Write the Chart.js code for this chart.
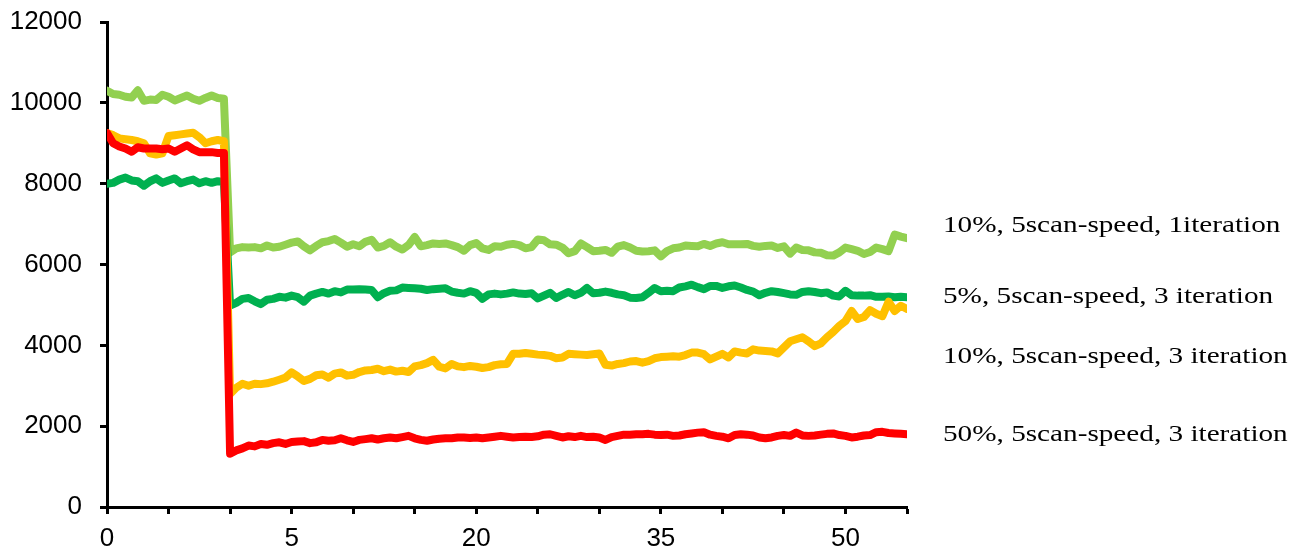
<!DOCTYPE html>
<html>
<head>
<meta charset="utf-8">
<title>Scan speed series</title>
<script src="https://cdn.jsdelivr.net/npm/chart.js@4.4.1/dist/chart.umd.min.js"></script>
<style>
  body { margin: 0; background: #fff; }
  #wrap { width: 1302px; height: 550px; }
</style>
</head>
<body>
<div id="wrap"><canvas id="lineChart"></canvas></div>
<script>
// x axis: one point per frame, tick every 10 frames, label every 30
const tickLabels = ['0', '5', '20', '35', '50'];

const seriesNames = [
    '10%, 5scan-speed, 1iteration',
    '5%, 5scan-speed, 3 iteration',
    '10%, 5scan-speed, 3 iteration',
    '50%, 5scan-speed, 3 iteration'
];

const lightGreen = [
    10300, 10220, 10200, 10150, 10130, 10310, 10050, 10080, 10070, 10200, 10150, 10060, 10120, 10180, 10100, 10050, 10120, 10180, 10120, 10100,
    6300, 6400, 6430, 6420, 6430, 6400, 6470, 6420, 6440, 6490, 6540, 6570, 6450, 6350, 6460, 6550, 6580, 6630, 6540, 6440, 6500, 6450, 6560, 6610, 6420, 6460, 6550,
    6440, 6370, 6480, 6680, 6450, 6480, 6520, 6510, 6520, 6480, 6430, 6340, 6480, 6530, 6400, 6360, 6450, 6440, 6490, 6510, 6480, 6400, 6430, 6620, 6600, 6500, 6490, 6420, 6280,
    6330, 6520, 6430, 6330, 6340, 6360, 6290, 6440, 6480, 6420, 6340, 6320, 6330, 6350, 6200, 6330, 6400, 6420, 6470, 6460, 6450, 6510, 6460, 6520, 6550, 6500,
    6500, 6500, 6510, 6460, 6440, 6460, 6470, 6410, 6450, 6270, 6420, 6360, 6350, 6300, 6290, 6230, 6220, 6300, 6420, 6380, 6340, 6260, 6310, 6420, 6380, 6330, 6740, 6690, 6650
];

const darkGreen = [
    8000, 8020, 8100, 8150, 8080, 8060, 7950, 8060, 8130, 8020, 8080, 8130, 8010, 8060, 8100, 8010, 8060, 8020, 8060, 8040,
    4980, 5050, 5150, 5170, 5090, 5020, 5130, 5150, 5200, 5180, 5230, 5190, 5080, 5230, 5280, 5320, 5280, 5340, 5310, 5380, 5380, 5390, 5380, 5370, 5190, 5290, 5350,
    5360, 5430, 5420, 5410, 5400, 5370, 5390, 5400, 5410, 5330, 5300, 5280, 5340, 5300, 5150, 5260, 5280, 5260, 5280, 5310, 5280, 5270, 5290, 5160, 5230, 5300, 5170, 5250, 5320,
    5240, 5300, 5420, 5290, 5300, 5330, 5300, 5260, 5240, 5180, 5170, 5190, 5300, 5420, 5340, 5350, 5340, 5430, 5460, 5500, 5440, 5390, 5470, 5470, 5420, 5460,
    5480, 5430, 5370, 5330, 5240, 5300, 5340, 5320, 5290, 5260, 5250, 5320, 5340, 5320, 5290, 5310, 5230, 5210, 5350, 5240, 5230, 5230, 5240, 5200, 5200, 5210, 5190, 5200, 5190
];

const yellow = [
    9250, 9200, 9120, 9100, 9080, 9050, 9000, 8750, 8720, 8750, 9180, 9200, 9220, 9240, 9260, 9150, 9000, 9050, 9080, 9050,
    2800, 2950, 3050, 3000, 3050, 3040, 3060, 3100, 3150, 3200, 3330, 3230, 3120, 3170, 3260, 3280, 3200, 3300, 3330, 3250, 3270, 3340, 3380, 3390, 3420, 3360, 3400,
    3350, 3370, 3340, 3480, 3510, 3560, 3640, 3470, 3430, 3540, 3480, 3460, 3490, 3470, 3440, 3460, 3510, 3530, 3540, 3790, 3790, 3810, 3790, 3770, 3760, 3740, 3680, 3700, 3790,
    3780, 3770, 3760, 3780, 3800, 3520, 3500, 3540, 3560, 3600, 3610, 3570, 3610, 3680, 3710, 3720, 3730, 3720, 3760, 3820, 3820, 3780, 3650, 3720, 3790, 3700,
    3850, 3820, 3800, 3900, 3870, 3860, 3850, 3800, 3950, 4100, 4150, 4200, 4100, 3980, 4050, 4200, 4330, 4480, 4600, 4850, 4650, 4700, 4870, 4780, 4720, 5080, 4850, 4980, 4900
];

const red = [
    9250, 9000, 8920, 8870, 8790, 8900, 8870, 8870, 8870, 8850, 8870, 8790, 8870, 8950, 8850, 8780, 8780, 8780, 8760, 8760,
    1320, 1400, 1450, 1520, 1500, 1560, 1540, 1580, 1600, 1560, 1610, 1620, 1630, 1580, 1600, 1660, 1640, 1650, 1700, 1650, 1610, 1660, 1680, 1700, 1670, 1700, 1720,
    1700, 1730, 1760, 1700, 1660, 1640, 1670, 1690, 1700, 1700, 1720, 1720, 1710, 1720, 1700, 1720, 1740, 1760, 1740, 1720, 1730, 1740, 1730, 1750, 1790, 1800, 1760, 1720, 1750,
    1730, 1760, 1730, 1740, 1720, 1660, 1730, 1760, 1790, 1790, 1800, 1800, 1810, 1790, 1780, 1790, 1760, 1770, 1800, 1820, 1840, 1850, 1790, 1760, 1740, 1700,
    1780, 1800, 1790, 1770, 1720, 1700, 1720, 1760, 1780, 1760, 1840, 1770, 1760, 1770, 1790, 1810, 1820, 1780, 1760, 1720, 1740, 1770, 1780, 1850, 1860, 1830, 1820, 1810, 1800
];

const colors = ['#92D050', '#00B050', '#FFC000', '#FF0000'];

// turn a value list into {x, y} points (x = frame index)
function toPoints(arr) {
    return arr.map(function (v, i) { return { x: i, y: v }; });
}

// series names written to the right of the plot (text is a bit stretched sideways in the original)
const sideLabels = {
    id: 'sideLabels',
    afterDraw(chart) {
        const ctx = chart.ctx;
        const ys = [226, 297, 357, 435];
        const stretch = 1.27;
        ctx.save();
        ctx.font = '23px "Liberation Serif", "Times New Roman", serif';
        ctx.fillStyle = '#000';
        ctx.textBaseline = 'middle';
        ctx.textAlign = 'left';
        ctx.translate(943, 0);
        ctx.scale(stretch, 1);
        for (let i = 0; i < seriesNames.length; i++) {
            ctx.fillText(seriesNames[i], 0, ys[i]);
        }
        ctx.restore();
    }
};

const allSeries = [lightGreen, darkGreen, yellow, red];
const datasets = allSeries.map(function (arr, i) {
    return {
        label: seriesNames[i],
        data: toPoints(arr),
        borderColor: colors[i],
        backgroundColor: colors[i],
        borderWidth: 8,
        pointRadius: 0,
        tension: 0,
        borderJoinStyle: 'round',
        borderCapStyle: 'round',
        order: 4 - i
    };
});

const axisFont = { family: '"Liberation Sans", Arial, sans-serif', size: 26 };

new Chart(document.getElementById('lineChart'), {
    type: 'line',
    data: { datasets: datasets },
    options: {
        responsive: true,
        maintainAspectRatio: false,
        animation: false,
        layout: { padding: { top: 22, right: 395, left: 0, bottom: 0 } },
        plugins: {
            legend: { display: false },
            tooltip: { enabled: false }
        },
        scales: {
            x: {
                type: 'linear',
                min: 0,
                max: 130,
                afterFit: function (scale) {
                    scale.height = 43;
                    scale.paddingLeft = 0;
                    scale.paddingRight = 0;
                },
                ticks: {
                    stepSize: 10,
                    autoSkip: false,
                    maxRotation: 0,
                    padding: 9,
                    color: '#000',
                    font: axisFont,
                    callback: function (v) {
                        return v % 30 === 0 ? tickLabels[v / 30] : '';
                    }
                },
                grid: {
                    drawOnChartArea: false,
                    tickLength: 7,
                    tickWidth: 3,
                    tickColor: '#000'
                },
                border: { display: true, color: '#000', width: 3 }
            },
            y: {
                min: 0,
                max: 12000,
                afterFit: function (scale) {
                    scale.width = 107;
                    scale.paddingTop = 0;
                    scale.paddingBottom = 0;
                },
                ticks: {
                    stepSize: 2000,
                    padding: 18,
                    color: '#000',
                    font: axisFont,
                    callback: function (v) { return String(v); }
                },
                grid: {
                    drawOnChartArea: false,
                    tickLength: 7,
                    tickWidth: 3,
                    tickColor: '#000'
                },
                border: { display: true, color: '#000', width: 3 }
            }
        }
    },
    plugins: [sideLabels]
});
</script>
</body>
</html>
